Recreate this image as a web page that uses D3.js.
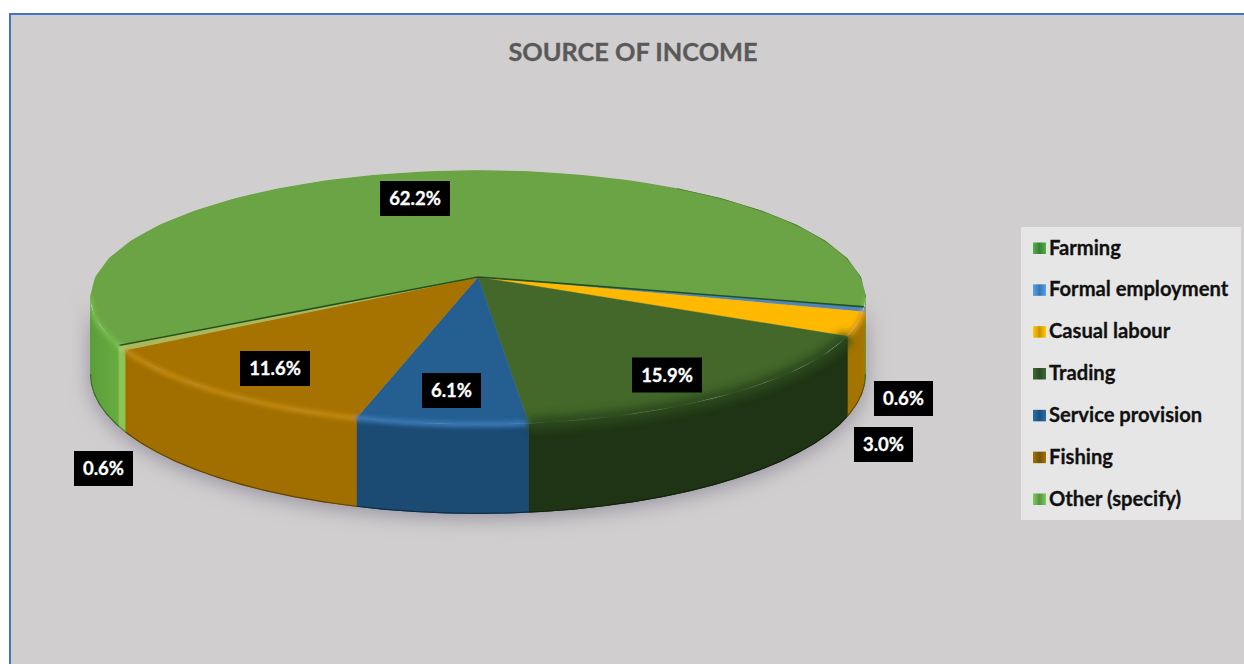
<!DOCTYPE html>
<html>
<head>
<meta charset="utf-8">
<script src="https://cdn.jsdelivr.net/npm/d3@7/dist/d3.min.js"></script>
<style>
html,body{margin:0;padding:0;background:#fff;}
svg{display:block;}
text{font-family:Lato,"Open Sans",sans-serif;font-weight:700;}
</style>
</head>
<body>
<svg id="chart" width="1244" height="664"></svg>
<script>
// Income source shares, in percent
const categories = ["Farming","Formal employment","Casual labour","Trading","Service provision","Fishing","Other (specify)"];
const shares = [62.2,0.6,3.0,15.9,6.1,11.6,0.6];
const valueLabels = ["62.2%","0.6%","3.0%","15.9%","6.1%","11.6%","0.6%"];

// Slice paint: top face, outer wall, bevel glow
const topColors  = ["#6ba444","#4f86bd","#ffb900","#43682a","#255e91","#a67200","#a9b95a"];
const wallColors = ["#5fa23c","#a47400","#a47400","#1f3414","#1b4a72","#a06f00","#8dc456"];
const rimColors  = ["#74bd4a","#6ea6dc","#e09c08","#2c4a1c","#3b7dbb","#c48a0a","#a5d96a"];
const rimWidths  = [5,4,6,13,5,5,4];
const legendColors = ["#3f8a3a","#3f7fbe","#e0a000","#2f5228","#1e568a","#7f5a02","#5fa048"];

// Label box centres, one per slice
const labelSpots = [[415,198.5],[903.5,398.5],[883.5,444.5],[667,375],[451.5,390.5],[275,368.5],[103.5,468.5]];

const svg = d3.select("#chart");
const W = 1244, H = 664;
const defs = svg.append("defs");

const cx = 478, cy = 277;
const rx = 383, ry = 124, tilt = 0.16, depth = 75;
const firstAngle = 239.5 * Math.PI / 180;

const pieLayout = d3.pie().sort(null).value(d => d)
  .startAngle(firstAngle).endAngle(firstAngle + 2 * Math.PI);
const arcs = pieLayout(shares);

// Perspective view of a circular disc; angle runs clockwise from the far side
const project = a => {
  const u = Math.sin(a), v = -Math.cos(a), s = 1 / (1 - tilt * v);
  return { x: cx + rx * u * s, y: cy + ry * v * s, drop: depth * s };
};
const samples = (a0, a1) => d3.range(0, 41).map(i => a0 + (a1 - a0) * i / 40);
const line = d3.line().x(d => d[0]).y(d => d[1]);

const topPts  = (a0, a1) => samples(a0, a1).map(a => { const p = project(a); return [p.x, p.y]; });
const footPts = (a0, a1) => samples(a0, a1).map(a => { const p = project(a); return [p.x, p.y + p.drop]; });

// Panel
const panel = svg.append("g");
panel.append("rect").attr("x", 10).attr("y", 14).attr("width", W - 10).attr("height", H - 14).attr("fill", "#d0cece");
panel.append("path").attr("d", `M10,${H}V14H${W}`).attr("fill", "none").attr("stroke", "#4472c4").attr("stroke-width", 2);

const blurFilter = (id, sd) => defs.append("filter").attr("id", id)
  .attr("filterUnits", "userSpaceOnUse").attr("x", 0).attr("y", 0).attr("width", W).attr("height", H)
  .append("feGaussianBlur").attr("stdDeviation", sd);
blurFilter("softShadow", 10);
blurFilter("softRim", 2.2);
blurFilter("softWide", 4.5);
blurFilter("softEdge", 0.6);

// Visible stretch of the wall: between the two silhouette tangents of the rim
const nearStart = Math.acos(-tilt), nearEnd = 2 * Math.PI - nearStart;

// Wall shading across the near arc of the farming slice
const wallGradient = defs.append("linearGradient").attr("id", "farmWall").attr("x1", 0).attr("x2", 1).attr("y1", 0).attr("y2", 0);
wallGradient.append("stop").attr("offset", "0%").attr("stop-color", "#5c9e3a");
wallGradient.append("stop").attr("offset", "100%").attr("stop-color", "#66ad40");

// Legend keys have a small bevel
legendColors.forEach((c, i) => {
  const g = defs.append("linearGradient").attr("id", `key${i}`).attr("x1", 0).attr("x2", 1).attr("y1", 0).attr("y2", 0);
  const hi = d3.color(c).brighter(0.7).formatHex(), lo = d3.color(c).darker(0.25).formatHex();
  g.append("stop").attr("offset", "0%").attr("stop-color", hi);
  g.append("stop").attr("offset", "50%").attr("stop-color", lo);
  g.append("stop").attr("offset", "100%").attr("stop-color", hi);
});

// Silhouette of the whole disc, keeps the soft rim inside the shape
const clip = defs.append("clipPath").attr("id", "discShape");
clip.append("path").attr("d", line(topPts(0, 2 * Math.PI)) + "Z");
clip.append("path").attr("d", line(topPts(nearStart, nearEnd).concat(footPts(nearStart, nearEnd).reverse())) + "Z");

const pie = svg.append("g");

// Cast shadow under the disc
pie.append("path")
  .attr("d", line(footPts(nearStart, nearEnd).map(([x, y]) => [x, y + 4]).concat(topPts(nearStart, nearEnd).reverse())) + "Z")
  .attr("fill", "#94919f").attr("filter", "url(#softShadow)");

// Parts of a slice that fall on the near arc
const nearPieces = d => {
  const a0 = d.startAngle % (2 * Math.PI), a1 = a0 + (d.endAngle - d.startAngle);
  return [[a0, a1], [a0 - 2 * Math.PI, a1 - 2 * Math.PI]]
    .map(([s, e]) => [Math.max(s, nearStart), Math.min(e, nearEnd)])
    .filter(([s, e]) => e > s);
};

const disc = pie.append("g").attr("clip-path", "url(#discShape)");

// Outer walls
const walls = disc.append("g");
arcs.forEach((d, i) => {
  nearPieces(d).forEach(([from, to]) => {
    const pts = topPts(from, to).concat(footPts(from, to).reverse());
    walls.append("path").attr("d", line(pts) + "Z")
      .attr("fill", i === 0 ? "url(#farmWall)" : wallColors[i])
      .attr("stroke", i === 0 ? "#60a03c" : wallColors[i]).attr("stroke-width", 0.6);
  });
});

// Shaded contact edge along the bottom of each wall
const contact = disc.append("g").attr("filter", "url(#softEdge)");
arcs.forEach((d, i) => {
  nearPieces(d).forEach(([from, to]) => {
    contact.append("path").attr("d", line(footPts(from, to)))
      .attr("fill", "none").attr("stroke", d3.color(wallColors[i]).darker(1.4).formatHex())
      .attr("stroke-width", 2.4);
  });
});

// Top faces
const tops = disc.append("g");
arcs.forEach((d, i) => {
  const pts = [[cx, cy]].concat(topPts(d.startAngle, d.endAngle));
  tops.append("path").attr("d", line(pts) + "Z")
    .attr("fill", topColors[i]).attr("stroke", topColors[i]).attr("stroke-width", 0.4);
});

// Bevel between top face and wall; the dark trading slice fades over a wider band
const rimsNarrow = disc.append("g").attr("filter", "url(#softRim)");
const rimsWide = disc.append("g").attr("filter", "url(#softWide)");
arcs.forEach((d, i) => {
  nearPieces(d).forEach(([from, to]) => {
    (rimWidths[i] > 8 ? rimsWide : rimsNarrow).append("path").attr("d", line(topPts(from, to)))
      .attr("fill", "none").attr("stroke", rimColors[i]).attr("stroke-width", rimWidths[i]);
  });
});

// Thin darker edge on the far rim of the farming slice
const farEdge = disc.append("g").attr("filter", "url(#softEdge)");
farEdge.append("path").attr("d", line(topPts(Math.PI * 0.2, nearStart)))
  .attr("fill", "none").attr("stroke", "#4f7d36").attr("stroke-width", 2);

// Seams where the farming slice meets its neighbours
const farmStart = project(arcs[0].startAngle), farmEnd = project(arcs[0].endAngle);
const seams = disc.append("g").attr("filter", "url(#softEdge)");
seams.append("path").attr("d", line([[farmStart.x, farmStart.y], [cx, cy], [farmEnd.x, farmEnd.y]]))
  .attr("fill", "none").attr("stroke", "#24531f").attr("stroke-width", 1.6);

// Value labels
const labels = svg.append("g");
shares.forEach((v, i) => {
  const text = valueLabels[i];
  const boxW = text.length > 4 ? 70 : 59, boxH = 35;
  const [lx, ly] = labelSpots[i];
  labels.append("rect").attr("x", lx - boxW / 2).attr("y", ly - boxH / 2)
    .attr("width", boxW).attr("height", boxH).attr("fill", "#000");
  labels.append("text").attr("x", lx).attr("y", ly + 6.5).attr("text-anchor", "middle")
    .attr("fill", "#fff").attr("stroke", "#fff").attr("stroke-width", 0.3)
    .attr("font-size", 18.5).text(text);
});

// Title
svg.append("text").attr("x", 633).attr("y", 61).attr("text-anchor", "middle")
  .attr("fill", "#595959").attr("stroke", "#595959").attr("stroke-width", 0.3)
  .attr("font-size", 25.3).text("SOURCE OF INCOME");

// Legend
const legendY = d3.scalePoint().domain(categories).range([248, 499]);
const legend = svg.append("g");
legend.append("rect").attr("x", 1021).attr("y", 227).attr("width", 220).attr("height", 293).attr("fill", "#e6e6e6");
categories.forEach((name, i) => {
  const y = legendY(name);
  legend.append("rect").attr("x", 1033).attr("y", y - 5.5).attr("width", 13).attr("height", 11.5).attr("fill", `url(#key${i})`);
  legend.append("text").attr("x", 1049).attr("y", y + 6.5).attr("fill", "#111").attr("stroke", "#111").attr("stroke-width", 0.3)
    .attr("font-size", 20.2).text(name);
});
</script>
</body>
</html>
